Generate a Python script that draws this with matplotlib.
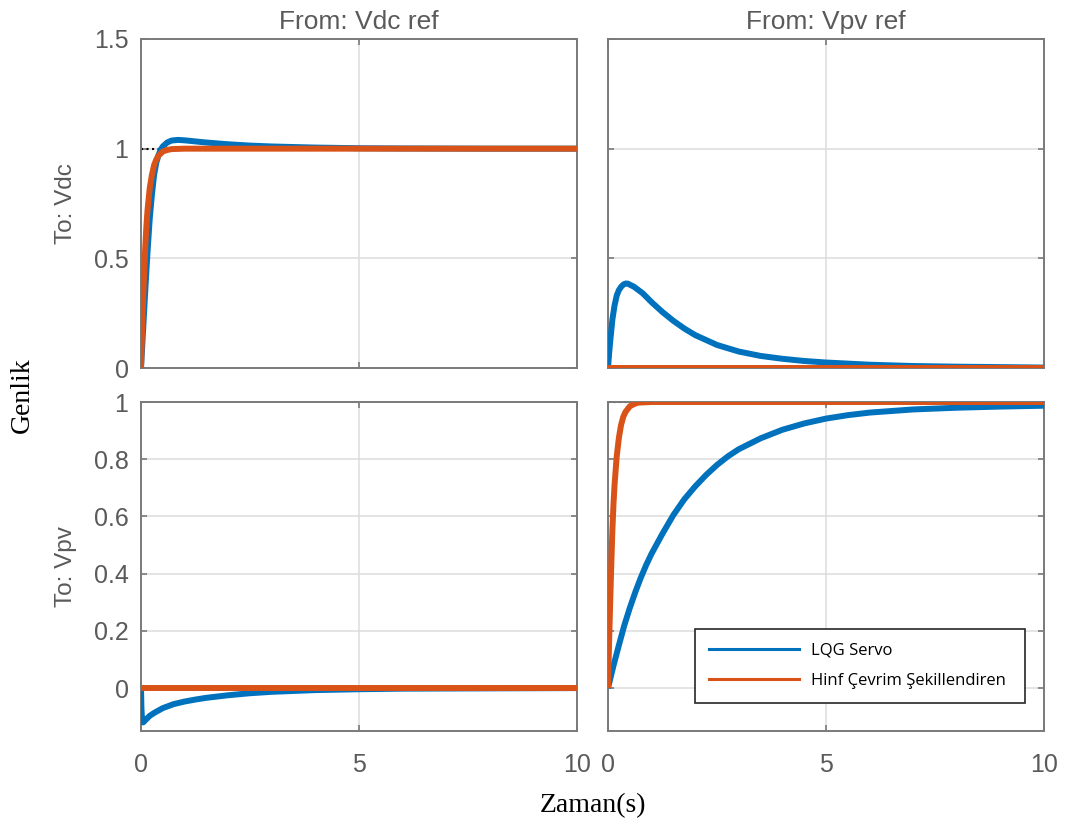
import matplotlib
matplotlib.use("Agg")
import matplotlib.pyplot as plt
from matplotlib.lines import Line2D

# Step responses, 2x2 MIMO system (inputs: Vdc ref, Vpv ref; outputs: Vdc, Vpv)
series_names = ["LQG Servo", "Hinf Çevrim Şekillendiren"]
input_names = ["Vdc ref", "Vpv ref"]
output_names = ["Vdc", "Vpv"]

# Vdc ref -> Vdc
t_lqg_11 = [0, 0.05, 0.1, 0.15, 0.2, 0.25, 0.3, 0.35, 0.4, 0.45, 0.5, 0.6, 0.7, 0.85, 1.0, 1.2, 1.5, 2.0, 2.5, 3.0, 4.0, 5.0, 6.0, 8.0, 10.0]
y_lqg_11 = [0, 0.18, 0.36, 0.53, 0.68, 0.79, 0.88, 0.935, 0.97, 0.995, 1.01, 1.028, 1.037, 1.04, 1.038, 1.034, 1.028, 1.02, 1.014, 1.01, 1.005, 1.002, 1.001, 1.0, 1.0]
t_hinf_11 = [0, 0.025, 0.05, 0.075, 0.1, 0.125, 0.15, 0.2, 0.25, 0.3, 0.35, 0.4, 0.5, 0.6, 0.7, 0.85, 1.0, 10.0]
y_hinf_11 = [0, 0.17, 0.32, 0.45, 0.56, 0.65, 0.72, 0.82, 0.88, 0.925, 0.95, 0.968, 0.987, 0.994, 0.998, 0.999, 1.0, 1.0]

# Vpv ref -> Vdc
t_lqg_12 = [0, 0.025, 0.05, 0.075, 0.1, 0.15, 0.2, 0.25, 0.3, 0.35, 0.4, 0.45, 0.5, 0.55, 0.6, 0.7, 0.8, 0.9, 1.0, 1.25, 1.5, 1.75, 2.0, 2.5, 3.0, 3.5, 4.0, 4.5, 5.0, 6.0, 7.0, 8.0, 9.0, 10.0]
y_lqg_12 = [0, 0.065, 0.12, 0.17, 0.22, 0.285, 0.33, 0.355, 0.37, 0.38, 0.385, 0.385, 0.38, 0.375, 0.37, 0.355, 0.34, 0.32, 0.30, 0.255, 0.215, 0.18, 0.15, 0.105, 0.075, 0.055, 0.042, 0.032, 0.025, 0.015, 0.009, 0.006, 0.004, 0.002]
t_hinf_12 = [0, 10.0]
y_hinf_12 = [0, 0]

# Vdc ref -> Vpv
t_lqg_21 = [0, 0.01, 0.02, 0.05, 0.1, 0.2, 0.3, 0.5, 0.75, 1.0, 1.25, 1.5, 2.0, 2.5, 3.0, 3.5, 4.0, 5.0, 6.0, 8.0, 10.0]
y_lqg_21 = [0, -0.07, -0.10, -0.12, -0.112, -0.097, -0.087, -0.07, -0.056, -0.047, -0.04, -0.034, -0.025, -0.018, -0.013, -0.01, -0.007, -0.004, -0.002, -0.001, 0]
t_hinf_21 = [0, 10.0]
y_hinf_21 = [0, 0]

# Vpv ref -> Vpv
t_lqg_22 = [0, 0.125, 0.25, 0.375, 0.5, 0.625, 0.75, 0.875, 1.0, 1.25, 1.5, 1.75, 2.0, 2.25, 2.5, 2.75, 3.0, 3.5, 4.0, 4.5, 5.0, 5.5, 6.0, 7.0, 8.0, 9.0, 10.0]
y_lqg_22 = [0, 0.078, 0.15, 0.22, 0.28, 0.335, 0.385, 0.43, 0.47, 0.54, 0.605, 0.66, 0.705, 0.745, 0.78, 0.81, 0.835, 0.873, 0.903, 0.925, 0.942, 0.954, 0.963, 0.974, 0.98, 0.984, 0.987]
t_hinf_22 = [0, 0.025, 0.05, 0.075, 0.1, 0.125, 0.15, 0.2, 0.25, 0.3, 0.35, 0.4, 0.5, 0.6, 0.7, 0.85, 1.0, 10.0]
y_hinf_22 = [0, 0.16, 0.3, 0.43, 0.55, 0.64, 0.71, 0.81, 0.875, 0.92, 0.948, 0.965, 0.985, 0.993, 0.998, 0.999, 1.0, 1.0]

lqg = [[(t_lqg_11, y_lqg_11), (t_lqg_12, y_lqg_12)],
       [(t_lqg_21, y_lqg_21), (t_lqg_22, y_lqg_22)]]
hinf = [[(t_hinf_11, y_hinf_11), (t_hinf_12, y_hinf_12)],
        [(t_hinf_21, y_hinf_21), (t_hinf_22, y_hinf_22)]]
steady = [[1.0, 0.0], [0.0, 1.0]]

BLUE = "#0072BD"
ORANGE = "#D95319"
GRAY = "#5a5a5a"
SPINE = "#7a7a7a"

plt.rcParams["font.family"] = ["Liberation Sans", "DejaVu Sans"]

fig = plt.figure(figsize=(10.69, 8.22), dpi=100)
W, H = 1069, 822
col_left = [141, 608]
col_w = 436
row_top = [39, 402]
row_h = 329

ylims = [(0, 1.5), (-0.15, 1.0)]
yticks = [[0, 0.5, 1, 1.5], [0, 0.2, 0.4, 0.6, 0.8, 1]]
ytick_labels = [["0", "0.5", "1", "1.5"], ["0", "0.2", "0.4", "0.6", "0.8", "1"]]

axes = [[None, None], [None, None]]
for r in range(2):
    for c in range(2):
        ax = fig.add_axes([col_left[c] / W, 1 - (row_top[r] + row_h) / H, col_w / W, row_h / H])
        axes[r][c] = ax
        ax.set_xlim(0, 10)
        ax.set_ylim(*ylims[r])
        ax.set_xticks([0, 5, 10])
        ax.set_yticks(yticks[r])
        ax.grid(True, color="#dcdcdc", lw=1.1)
        ax.set_axisbelow(True)
        for s in ax.spines.values():
            s.set_color(SPINE)
            s.set_linewidth(1.4)
        ax.tick_params(direction="in", length=4, width=1.2, color=SPINE,
                       labelsize=18, labelcolor=GRAY, top=True, right=True)
        ax.tick_params(axis="x", pad=16)
        ax.tick_params(axis="y", pad=9)
        if r == 0:
            ax.set_xticklabels([])
        else:
            ax.set_xticklabels(["0", "5", "10"])
        if c == 1:
            ax.set_yticklabels([])
        else:
            ax.set_yticklabels(ytick_labels[r])

        ax.axhline(steady[r][c], color="black", ls=":", lw=1.5, zorder=2)
        t, y = lqg[r][c]
        ax.plot(t, y, color=BLUE, lw=4.3, solid_capstyle="butt", solid_joinstyle="round", zorder=3)
        t, y = hinf[r][c]
        ax.plot(t, y, color=ORANGE, lw=4.3, solid_capstyle="butt", solid_joinstyle="round", zorder=4)

for c in range(2):
    axes[0][c].set_title("From: " + input_names[c], fontsize=19, color=GRAY, pad=7)
for r in range(2):
    yc = row_top[r] + row_h / 2
    fig.text(66 / W, 1 - yc / H, "To: " + output_names[r], rotation=90,
             ha="center", va="center", fontsize=17.5, color=GRAY)

fig.text(22 / W, 1 - 395 / H, "Genlik", rotation=90, ha="center", va="center",
         fontsize=20, family=["Liberation Serif", "DejaVu Serif"], color="black")
fig.text(593 / W, 1 - 806 / H, "Zaman(s)", ha="center", va="center",
         fontsize=20, family=["Liberation Serif", "DejaVu Serif"], color="black")

handles = [Line2D([0], [0], color=BLUE, lw=2.2), Line2D([0], [0], color=ORANGE, lw=2.2)]
leg = axes[1][1].legend(handles, series_names, loc="lower left",
                        bbox_to_anchor=((695 - 608) / col_w, (731 - 703) / row_h,
                                        330 / col_w, 80 / row_h),
                        mode="expand", fancybox=False, framealpha=1, edgecolor="#262626",
                        prop={"family": ["Open Sans", "DejaVu Sans"], "size": 12},
                        handlelength=5.4, handletextpad=0.7, borderpad=0.85,
                        labelspacing=0.85, borderaxespad=0)
leg.get_frame().set_linewidth(1.2)

fig.savefig("out.png", dpi=100)
